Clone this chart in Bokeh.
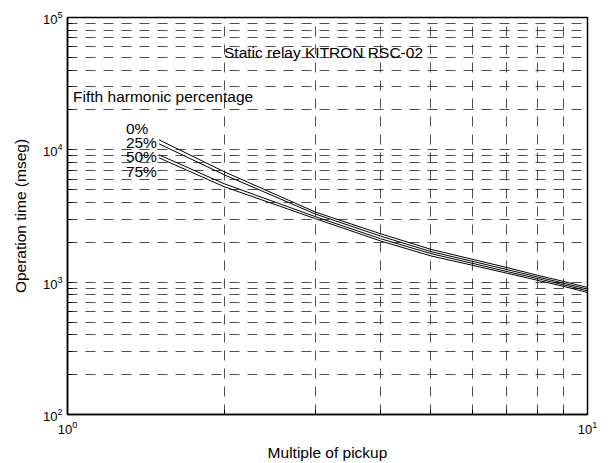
from bokeh.plotting import figure
from bokeh.models import FixedTicker, LogTickFormatter, Label
from bokeh.embed import file_html
from bokeh.resources import INLINE

# Data
multiple = [1.5, 2, 3, 4, 5, 6, 7, 8, 9, 10]
t_0 = [11900, 6840, 3380, 2323, 1770, 1490, 1289, 1130, 1012, 912]
t_25 = [11100, 6490, 3268, 2229, 1702, 1439, 1245, 1097, 982, 886]
t_50 = [9170, 5550, 3122, 2130, 1644, 1390, 1203, 1066, 955, 861]
t_75 = [8700, 5270, 3016, 2048, 1579, 1343, 1169, 1035, 929, 836]
series_labels = ["0%", "25%", "50%", "75%"]

x_major = [1, 10]
x_minor = [2, 3, 4, 5, 6, 7, 8, 9]
y_major = [100, 1000, 10000, 100000]
y_minor = [m * d for d in (100, 1000, 10000) for m in range(2, 10)]

FONT = "Liberation Sans"

p = figure(width=608, height=463, x_axis_type="log", y_axis_type="log",
           x_range=(1, 10), y_range=(100, 100000),
           output_backend="svg", toolbar_location=None,
           min_border_left=67, min_border_right=21,
           min_border_top=17, min_border_bottom=47)
p.background_fill_color = "white"
p.border_fill_color = "white"
p.outline_line_color = "black"
p.outline_line_width = 1.5

xt = FixedTicker(ticks=x_major, minor_ticks=x_minor)
yt = FixedTicker(ticks=y_major, minor_ticks=y_minor)

for ax in (p.xaxis[0], p.yaxis[0]):
    ax.major_tick_in = 5
    ax.major_tick_out = 0
    ax.minor_tick_in = 5
    ax.minor_tick_out = 0
    ax.axis_line_color = "black"
    ax.axis_line_width = 1.5
    ax.major_label_text_font = FONT
    ax.major_label_text_font_size = "13px"
    ax.major_label_text_color = "black"
    ax.axis_label_text_font = FONT
    ax.axis_label_text_font_size = "15.5px"
    ax.axis_label_text_font_style = "normal"
    ax.axis_label_text_color = "black"
    ax.formatter = LogTickFormatter()

p.xaxis[0].ticker = xt
p.yaxis[0].ticker = yt
p.xaxis.axis_label = "Multiple of pickup"
p.yaxis.axis_label = "Operation time (mseg)"
p.xaxis.major_label_standoff = 6
p.yaxis.major_label_standoff = 5
p.xaxis.axis_label_standoff = 7
p.yaxis.axis_label_standoff = 11

p.xgrid.ticker = xt
p.ygrid.ticker = yt
for g in (p.xgrid[0], p.ygrid[0]):
    g.grid_line_color = "#222222"
    g.grid_line_width = 0.8
    g.grid_line_dash = "10 8"
    g.minor_grid_line_color = "#222222"
    g.minor_grid_line_width = 0.8
    g.minor_grid_line_dash = "10 8"

for ys in (t_0, t_25, t_50, t_75):
    p.line(multiple, ys, line_color="black", line_width=1)

label_y = [14600, 11300, 8860, 6840]
for txt, yv in zip(series_labels, label_y):
    p.add_layout(Label(x=1.295, y=yv, text=txt, text_font=FONT,
                       text_font_size="15.5px", text_baseline="middle",
                       text_color="black"))

p.add_layout(Label(x=1.025, y=25100, text="Fifth harmonic percentage",
                   text_font=FONT, text_font_size="15.5px",
                   text_baseline="middle", text_color="black"))
p.add_layout(Label(x=2.0, y=54800, text="Static relay KITRON RSC-02",
                   text_font=FONT, text_font_size="15.5px",
                   text_baseline="middle", text_color="black"))

open("out.html", "w").write(file_html(p, INLINE))
